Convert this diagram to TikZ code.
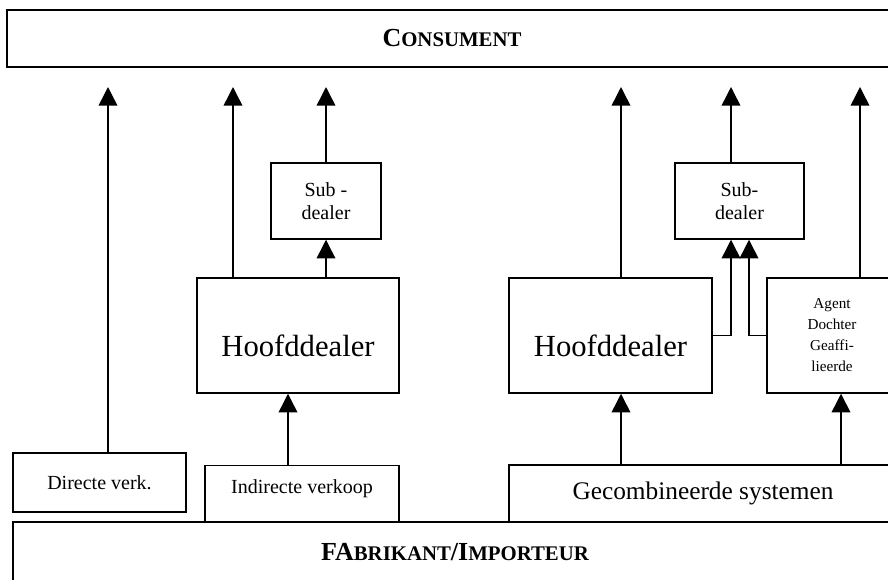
\documentclass[tikz,border=0pt]{standalone}
\usepackage{fontspec}
\setmainfont{Liberation Serif}
\usetikzlibrary{arrows.meta}

\begin{document}
\begin{tikzpicture}[
        x=0.75pt, y=-0.75pt,
        every node/.style={
            align=center,
            inner sep=0pt
        },
        box/.style={
            rectangle,
            draw,
            fill=white,
            line width=1.1pt
        },
        endbox/.style={
            box,
            line width=1.7pt,
            font=\bfseries
        },
        dealerbox/.style={
            box,
            minimum width=151.5pt,
            minimum height=86.25pt,
            text height=32pt,
            text depth=0pt,
            font=\fontsize{23}{27}\selectfont
        },
        subbox/.style={
            box,
            minimum height=57pt,
            font=\fontsize{15}{17.5}\selectfont
        },
        arrow/.style={
            -{Triangle[length=14pt,width=14pt]},
            line width=1.1pt
        }
    ]
    \useasboundingbox (0,0) rectangle (888,579);

    % bovenste rij: consument
    \node[endbox, minimum width=667.5pt, minimum height=42.75pt] (cons) at (452,38.5)
        {\fontsize{19.5}{22}\selectfont C\fontsize{15.6}{18}\selectfont ONSUMENT};

    % tussenhandel
    \node[dealerbox] (hd1) at (298,335.5) {Hoofddealer};
    \node[subbox, minimum width=82.5pt] (sub1) at (326,201) {Sub -\\dealer};
    \node[dealerbox, minimum width=152.25pt] (hd2) at (610.5,335.5) {Hoofddealer};
    \node[subbox, minimum width=96.75pt] (sub2) at (739.5,201) {Sub-\\dealer};
    \node[box, minimum width=97.5pt, minimum height=86.25pt,
          font=\fontsize{11.4}{15.75}\selectfont] (agent) at (832,335.5)
        {Agent\\Dochter\\Geaffi-\\lieerde};

    % verkoopkanalen
    \node[box, minimum width=129.75pt, minimum height=44.25pt,
          font=\fontsize{15}{18}\selectfont] (direct) at (99.5,482.5) {Directe verk.};
    \node[box, anchor=north, minimum width=145.5pt, text height=21pt, text depth=41pt,
          font=\fontsize{15}{18}\selectfont] (indirect) at (302,465) {Indirecte verkoop};
    \node[box, minimum width=291pt, minimum height=42.75pt,
          font=\fontsize{19}{22}\selectfont] (comb) at (703,493.5) {Gecombineerde systemen};

    % onderste rij: fabrikant
    \node[endbox, minimum width=663pt, minimum height=45pt] (fab) at (455,552)
        {\fontsize{19.5}{22}\selectfont FA\fontsize{15.6}{18}\selectfont BRIKANT%
         \fontsize{19.5}{22}\selectfont /I\fontsize{15.6}{18}\selectfont MPORTEUR};

    % pijlpunten onder de consument en verticale lijnen
    \coordinate (t1) at (108,87);
    \coordinate (t2) at (233,87);
    \coordinate (t3) at (326,87);
    \coordinate (t4) at (621,87);
    \coordinate (t5) at (731,87);
    \coordinate (t6) at (860,87);
    \coordinate (lane1) at (288,0);
    \coordinate (lane2) at (749,0);
    \coordinate (lane3) at (841,0);

    % naar de consument
    \draw[arrow] (direct.north -| t1) -- (t1);
    \draw[arrow] (hd1.north -| t2) -- (t2);
    \draw[arrow] (sub1.north -| t3) -- (t3);
    \draw[arrow] (hd2.north -| t4) -- (t4);
    \draw[arrow] (sub2.north -| t5) -- (t5);
    \draw[arrow] (agent.north -| t6) -- (t6);

    % naar de sub-dealers
    \draw[arrow] (hd1.north -| t3) -- (sub1.south -| t3);
    \draw[arrow] (hd2.east) -| (sub2.south -| t5);
    \draw[arrow] (agent.west) -| (sub2.south -| lane2);

    % vanuit de verkoopkanalen
    \draw[arrow] (indirect.north -| lane1) -- (hd1.south -| lane1);
    \draw[arrow] (comb.north -| t4) -- (hd2.south -| t4);
    \draw[arrow] (comb.north -| lane3) -- (agent.south -| lane3);

\end{tikzpicture}
\end{document}
